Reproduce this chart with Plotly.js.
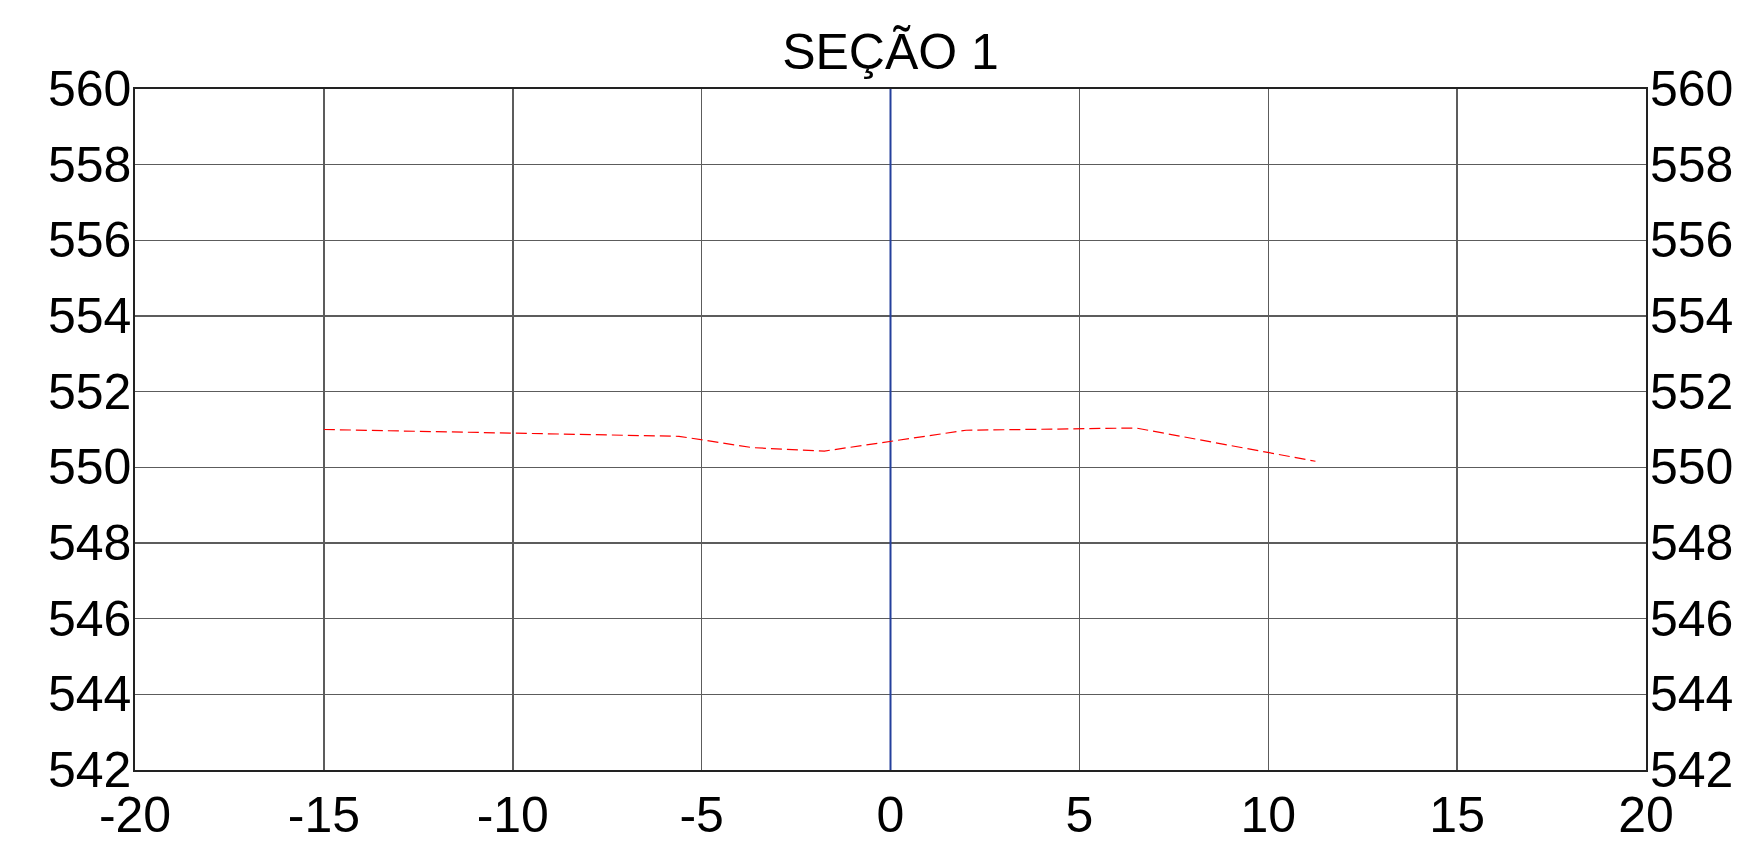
<!DOCTYPE html>
<html>
<head>
<meta charset="utf-8">
<script src="https://cdn.plot.ly/plotly-3.0.1.min.js"></script>
<style>html,body{margin:0;padding:0;background:#fff;}#chart{width:1749px;height:854px;}</style>
</head>
<body>
<div id="chart"></div>
<script>
// Section profile (offset in m, elevation in m)
const profileX = [-15, -5.6, -3.65, -1.75, 2.0, 6.5, 11.25];
const profileY = [551.0, 550.82, 550.52, 550.43, 550.98, 551.04, 550.16];
// Axis (centre line) of the section
const centerX = [0, 0];
const centerY = [542, 560];
const xRange = [-20, 20];
const yRange = [542, 560];
const xTickVals = [-20, -15, -10, -5, 0, 5, 10, 15, 20];
const xTickLabels = ['-20', '-15', '-10', '-5', '0', '5', '10', '15', '20'];
const yTickVals = [542, 544, 546, 548, 550, 552, 554, 556, 558, 560];
const yTickLabels = ['542', '544', '546', '548', '550', '552', '554', '556', '558', '560'];
const chartTitle = 'SEÇÃO 1';

const font = 'Liberation Sans, Arial, sans-serif';
const labelFont = {family: font, size: 50, color: '#000'};

const traces = [
  {x: centerX, y: centerY, mode: 'lines', line: {color: '#24409c', width: 2}, hoverinfo: 'skip', showlegend: false},
  {x: profileX, y: profileY, mode: 'lines', line: {color: '#ff0000', width: 1.2, dash: '11px,5px'}, showlegend: false}
];

// y tick labels on both sides, placed on the y scale
const annotations = [];
yTickVals.forEach((v, i) => {
  annotations.push({xref: 'paper', yref: 'y', x: 0, y: v, xanchor: 'right', yanchor: 'middle', xshift: -3,
    text: yTickLabels[i], showarrow: false, font: labelFont, borderpad: 0});
  annotations.push({xref: 'paper', yref: 'y', x: 1, y: v, xanchor: 'left', yanchor: 'middle', xshift: 3,
    text: yTickLabels[i], showarrow: false, font: labelFont, borderpad: 0});
});

const layout = {
  width: 1749, height: 854,
  margin: {l: 135, r: 102.5, t: 89, b: 84, pad: 0},
  paper_bgcolor: '#ffffff', plot_bgcolor: '#ffffff',
  title: {text: chartTitle, font: {family: font, size: 50, color: '#000'}, x: 0.5, xref: 'paper', y: 1, yref: 'paper', yanchor: 'bottom', pad: {b: 20}},
  xaxis: {
    range: xRange, tickmode: 'array', tickvals: xTickVals, ticktext: xTickLabels, ticks: '',
    showgrid: true, gridcolor: '#5c5c5c', gridwidth: 1.5,
    zeroline: false, showline: true, mirror: true, linecolor: '#222', linewidth: 2,
    tickfont: labelFont, ticklabelstandoff: 0, fixedrange: true
  },
  yaxis: {
    range: yRange, tickmode: 'array', tickvals: yTickVals, showticklabels: false, ticks: '',
    showgrid: true, gridcolor: '#5c5c5c', gridwidth: 1.5,
    zeroline: false, showline: true, mirror: true, linecolor: '#222', linewidth: 2, fixedrange: true
  },
  annotations: annotations,
  showlegend: false
};

Plotly.newPlot('chart', traces, layout, {displayModeBar: false, staticPlot: true});
</script>
</body>
</html>
